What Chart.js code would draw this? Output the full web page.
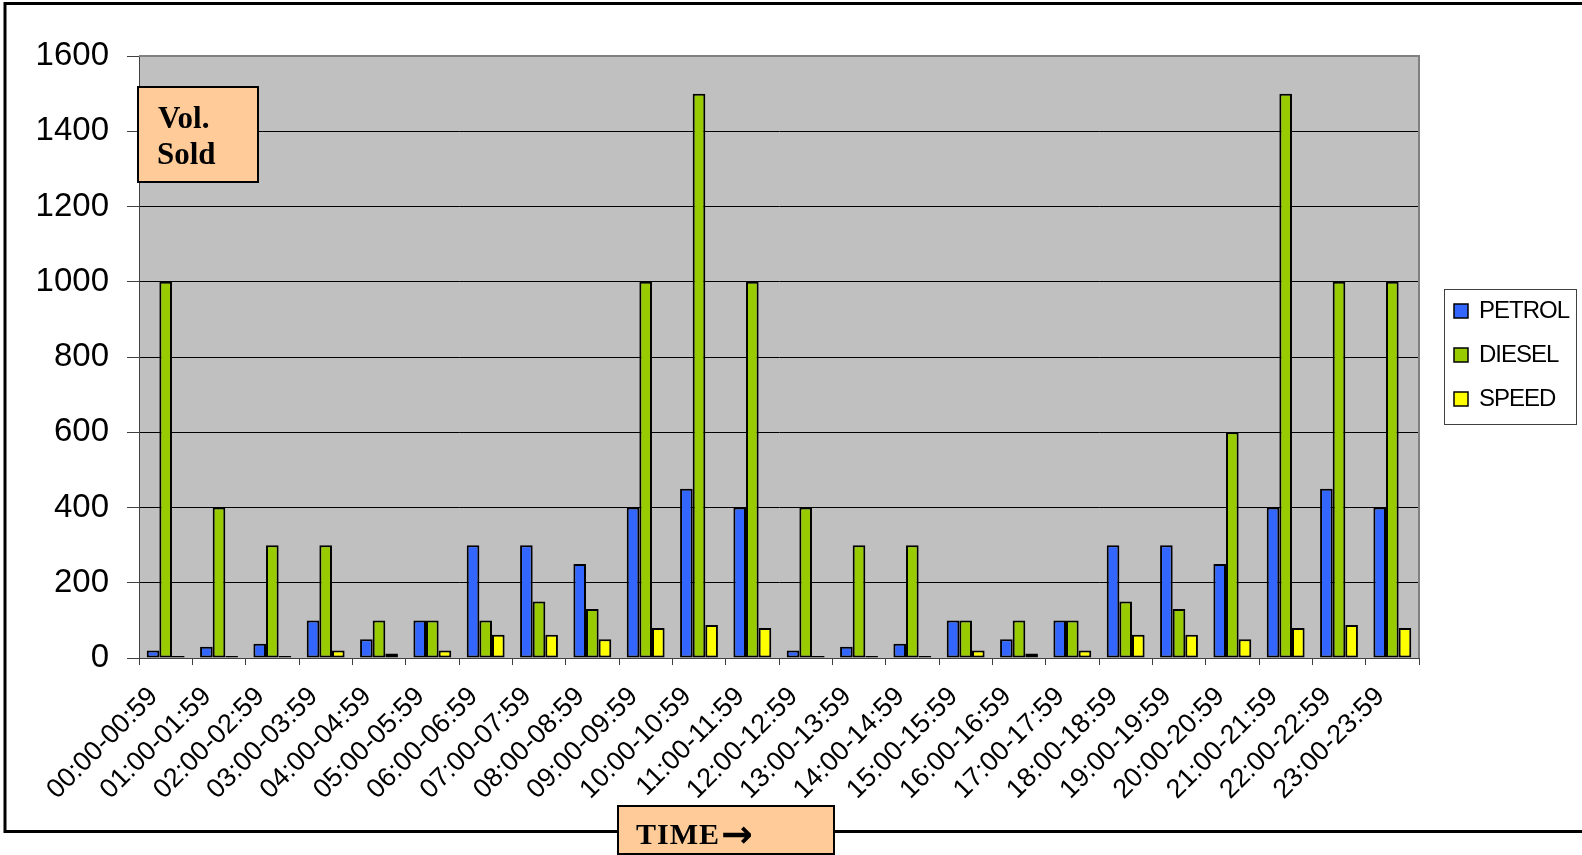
<!DOCTYPE html>
<html>
<head>
<meta charset="utf-8">
<script src="https://cdn.jsdelivr.net/npm/chart.js@4/dist/chart.umd.min.js"></script>
<style>
  html, body { margin: 0; padding: 0; background: #fff; }
  canvas { display: block; }
</style>
</head>
<body>
<canvas id="grafico" width="1582" height="855"></canvas>
<script>
// ========== Datos ==========
const horas = [
  "00:00-00:59", "01:00-01:59", "02:00-02:59", "03:00-03:59", "04:00-04:59",
  "05:00-05:59", "06:00-06:59", "07:00-07:59", "08:00-08:59", "09:00-09:59",
  "10:00-10:59", "11:00-11:59", "12:00-12:59", "13:00-13:59", "14:00-14:59",
  "15:00-15:59", "16:00-16:59", "17:00-17:59", "18:00-18:59", "19:00-19:59",
  "20:00-20:59", "21:00-21:59", "22:00-22:59", "23:00-23:59"
];
const petrol = [20, 30, 38, 100, 50, 100, 300, 300, 250, 400, 450, 400, 20, 30, 38, 100, 50, 100, 300, 300, 250, 400, 450, 400];
const diesel = [1000, 400, 300, 300, 100, 100, 100, 150, 130, 1000, 1500, 1000, 400, 300, 300, 100, 100, 100, 150, 130, 600, 1500, 1000, 1000];
const speed = [5, 5, 5, 20, 12, 20, 62, 62, 50, 80, 88, 80, 5, 5, 5, 20, 12, 20, 62, 62, 50, 80, 88, 80];
const yTicks = [0, 200, 400, 600, 800, 1000, 1200, 1400, 1600];

const colores = { petrol: "#3366FF", diesel: "#99CC00", speed: "#FFFF00" };

// ========== Decoración ==========
const decoracion = {
  id: "decoracion",
  beforeDraw(chart) {
    const { ctx, chartArea: a } = chart;
    ctx.save();
    ctx.fillStyle = "#C0C0C0";
    ctx.fillRect(a.left, a.top, a.right - a.left, a.bottom - a.top);
    ctx.restore();
  },
  afterDatasetsDraw(chart) {
    const { ctx, chartArea: a } = chart;
    ctx.save();
    // borde del área de gráfico
    ctx.strokeStyle = "#808080";
    ctx.lineWidth = 2;
    ctx.beginPath();
    ctx.moveTo(a.left, a.top);
    ctx.lineTo(a.right, a.top);
    ctx.lineTo(a.right, a.bottom);
    ctx.stroke();

    // caja "Vol. Sold"
    ctx.fillStyle = "#FFCC99";
    ctx.fillRect(138, 87, 120, 95);
    ctx.strokeStyle = "#000";
    ctx.lineWidth = 2;
    ctx.strokeRect(138, 87, 120, 95);
    ctx.fillStyle = "#000";
    ctx.font = "bold 31px 'Liberation Serif'";
    ctx.textAlign = "left";
    ctx.textBaseline = "alphabetic";
    ctx.fillText("Vol.", 158, 128);
    ctx.fillText("Sold", 157, 164);
    ctx.restore();
  },
  afterDraw(chart) {
    const { ctx } = chart;
    ctx.save();
    // marco exterior
    ctx.strokeStyle = "#000";
    ctx.lineWidth = 3;
    ctx.strokeRect(5, 3.5, 1600, 828);

    // leyenda
    ctx.fillStyle = "#fff";
    ctx.fillRect(1444.5, 289.5, 132, 135);
    ctx.strokeStyle = "#404040";
    ctx.lineWidth = 1;
    ctx.strokeRect(1444.5, 289.5, 132, 135);
    const filas = [311, 355, 399];
    chart.data.datasets.forEach((ds, i) => {
      const y = filas[i];
      ctx.fillStyle = ds.backgroundColor;
      ctx.fillRect(1454, y - 7, 14, 14);
      ctx.strokeStyle = "#000";
      ctx.lineWidth = 1.5;
      ctx.strokeRect(1454, y - 7, 14, 14);
      ctx.fillStyle = "#000";
      ctx.font = "24px 'Liberation Sans'";
      ctx.textBaseline = "middle";
      ctx.textAlign = "left";
      ctx.letterSpacing = "-1px";
      ctx.fillText(ds.label, 1479, y);
      ctx.letterSpacing = "0px";
    });

    // caja "TIME"
    ctx.fillStyle = "#FFCC99";
    ctx.fillRect(618, 806, 216, 48);
    ctx.strokeStyle = "#000";
    ctx.lineWidth = 2;
    ctx.strokeRect(618, 806, 216, 48);
    ctx.fillStyle = "#000";
    ctx.font = "bold 30px 'Liberation Serif'";
    ctx.textBaseline = "alphabetic";
    ctx.letterSpacing = "1px";
    ctx.fillText("TIME", 636, 844);
    ctx.letterSpacing = "0px";
    ctx.font = "bold 38px 'DejaVu Sans'";
    ctx.fillText("\u2192", 721, 847);
    ctx.restore();
  }
};

// ========== Gráfico ==========
const ctx = document.getElementById("grafico").getContext("2d");

new Chart(ctx, {
  type: "bar",
  data: {
    labels: horas,
    datasets: [
      { label: "PETROL", data: petrol, backgroundColor: colores.petrol },
      { label: "DIESEL", data: diesel, backgroundColor: colores.diesel },
      { label: "SPEED", data: speed, backgroundColor: colores.speed },
    ].map((d) => ({
      ...d,
      borderColor: "#000",
      borderWidth: 2,
      borderSkipped: false,
      categoryPercentage: 0.71,
      barPercentage: 1.0,
    })),
  },
  options: {
    responsive: false,
    animation: false,
    devicePixelRatio: 1,
    layout: { padding: { left: 0, top: 56, right: 163, bottom: 0 } },
    plugins: {
      legend: { display: false },
      tooltip: { enabled: false },
    },
    scales: {
      y: {
        min: 0,
        max: 1600,
        afterBuildTicks: (scale) => {
          scale.ticks = yTicks.map((v) => ({ value: v }));
        },
        afterFit: (scale) => {
          scale.width = 139;
        },
        ticks: {
          color: "#000",
          padding: 18,
          callback: (v) => String(v),
          font: { family: "'Liberation Sans'", size: 33 },
        },
        grid: {
          color: "#000",
          lineWidth: 1,
          tickLength: 12,
          tickColor: "#404040",
        },
        border: { display: true, color: "#404040", width: 1 },
      },
      x: {
        afterFit: (scale) => {
          scale.height = 197;
        },
        ticks: {
          color: "#000",
          minRotation: 45,
          maxRotation: 45,
          autoSkip: false,
          padding: 16,
          labelOffset: -12,
          font: { family: "'Liberation Sans'", size: 27 },
        },
        grid: {
          drawOnChartArea: false,
          offset: true,
          tickLength: 7,
          tickColor: "#404040",
        },
        border: { display: true, color: "#404040", width: 1 },
      },
    },
  },
  plugins: [decoracion],
});
</script>
</body>
</html>
